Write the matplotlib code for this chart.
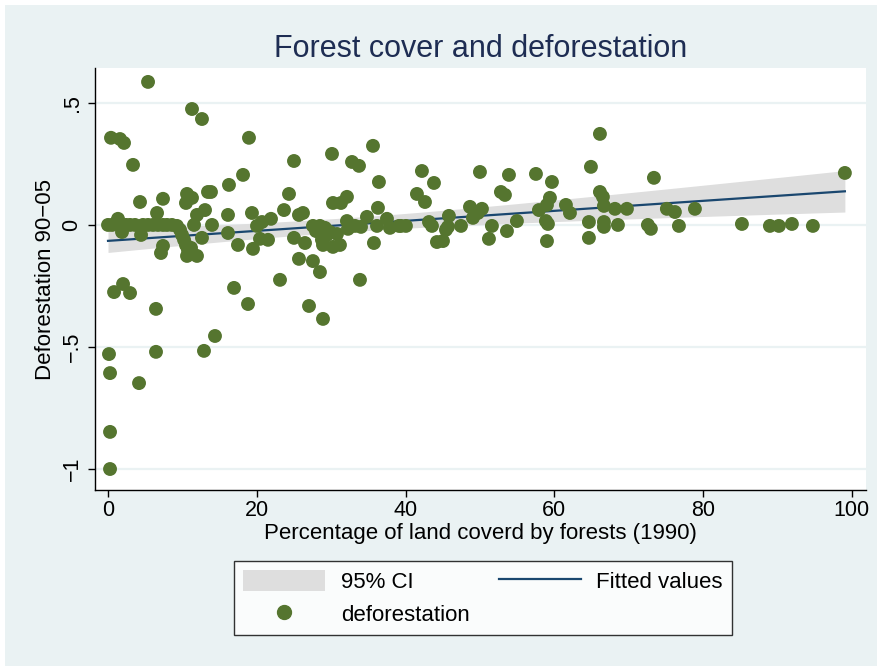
import matplotlib.pyplot as plt
import numpy as np
from matplotlib.patches import Patch, Rectangle
from matplotlib.lines import Line2D

plt.rcParams['font.family'] = ['Liberation Sans', 'DejaVu Sans']

# share of land covered by forests in 1990 (%) and deforestation 1990-2005
forest_1990 = [
    5.38, 11.29, 12.63, 0.40, 1.61, 2.15, 3.36, 18.95, 18.15, 16.26,
    13.44, 13.84, 10.62, 11.29, 10.48, 7.39, 4.30, 6.59, 11.96, 13.04,
    16.13, 0.00, 0.54, 1.08, 1.34, 1.61, 1.88, 2.42, 2.96, 3.63,
    4.44, 4.70, 5.38, 6.05, 6.72, 7.39, 7.93, 8.60, 9.27, 9.68,
    9.95, 10.22, 10.48, 10.75, 11.16, 11.56, 13.98, 12.63, 16.13, 17.47,
    7.39, 7.12, 10.62, 11.96, 0.81, 2.02, 2.96, 6.45, 0.13, 6.45,
    0.27, 4.17, 0.27, 0.27, 14.38, 12.90, 16.94, 18.82, 19.35, 20.03,
    20.70, 21.91, 20.43, 21.51, 19.49, 23.66, 24.33, 25.00, 23.12, 25.00,
    26.48, 25.67, 26.21, 25.67, 27.55, 28.49, 27.02, 28.90, 30.11, 32.80,
    33.74, 35.62, 36.42, 30.24, 31.32, 32.12, 27.55, 28.49, 27.96, 29.17,
    29.44, 28.76, 28.90, 30.24, 31.18, 30.78, 29.84, 32.12, 32.26, 33.20,
    34.01, 34.81, 36.29, 36.16, 37.50, 37.90, 39.11, 35.75, 33.87, 42.20,
    43.82, 41.53, 42.61, 39.38, 40.05, 43.15, 43.55, 44.22, 45.03, 45.83,
    45.70, 45.43, 47.45, 48.66, 49.06, 50.27, 49.73, 50.00, 51.61, 51.21,
    53.63, 54.97, 52.82, 53.36, 53.90, 57.53, 59.68, 57.93, 58.87, 59.14,
    59.01, 59.41, 59.01, 61.56, 62.10, 64.65, 64.65, 64.92, 66.13, 66.13,
    66.53, 66.67, 66.67, 66.67, 68.15, 69.76, 68.55, 72.58, 72.98, 73.39,
    75.13, 76.21, 76.75, 78.90, 85.22, 88.98, 90.19, 91.94, 94.76, 99.06,
]
deforestation = [
    0.586, 0.475, 0.434, 0.357, 0.352, 0.336, 0.246, 0.357, 0.205, 0.164,
    0.135, 0.135, 0.127, 0.111, 0.090, 0.107, 0.094, 0.049, 0.041, 0.061,
    0.041, 0.000, 0.000, 0.008, 0.025, 0.000, -0.029, 0.000, 0.000, 0.000,
    -0.041, 0.000, 0.000, 0.000, 0.000, 0.000, 0.000, 0.000, -0.004, -0.020,
    -0.041, -0.061, -0.082, -0.102, -0.094, 0.000, 0.000, -0.053, -0.033, -0.082,
    -0.086, -0.115, -0.127, -0.127, -0.275, -0.242, -0.279, -0.344, -0.529, -0.520,
    -0.607, -0.648, -0.848, -1.000, -0.455, -0.516, -0.258, -0.324, 0.049, -0.004,
    0.012, 0.025, -0.057, -0.061, -0.098, 0.061, 0.127, 0.262, -0.225, -0.053,
    -0.074, 0.041, 0.049, -0.139, -0.148, -0.193, -0.332, -0.385, 0.291, 0.258,
    0.242, 0.324, 0.176, 0.090, 0.090, 0.115, -0.004, -0.004, -0.025, -0.012,
    -0.041, -0.061, -0.082, -0.090, -0.082, -0.037, -0.029, 0.016, -0.016, -0.004,
    -0.008, 0.033, 0.070, -0.004, 0.025, -0.012, -0.004, -0.074, -0.225, 0.221,
    0.172, 0.127, 0.094, -0.004, -0.004, 0.012, -0.004, -0.070, -0.066, 0.037,
    -0.008, -0.020, -0.004, 0.074, 0.029, 0.066, 0.049, 0.217, -0.004, -0.057,
    -0.025, 0.016, 0.135, 0.123, 0.205, 0.209, 0.176, 0.061, 0.016, 0.004,
    -0.066, 0.111, 0.082, 0.082, 0.049, 0.012, -0.053, 0.238, 0.373, 0.135,
    0.115, 0.078, 0.012, -0.008, 0.066, 0.066, 0.000, 0.000, -0.016, 0.193,
    0.066, 0.053, -0.004, 0.066, 0.004, -0.004, -0.004, 0.004, -0.004, 0.213,
]

x_ticks = [0, 20, 40, 60, 80, 100]
y_ticks = [-1, -0.5, 0, 0.5]
y_tick_labels = ['\u22121', '\u2212.5', '0', '.5']

bg = '#EAF2F3'
green = '#55752F'
navy = '#1A476F'
band_gray = '#DEDEDE'

x = np.array(forest_1990)
y = np.array(deforestation)

# linear fit with 95% confidence band for the mean prediction
n = len(x)
slope, intercept = np.polyfit(x, y, 1)
resid = y - (intercept + slope * x)
s = np.sqrt(np.sum(resid ** 2) / (n - 2))
sxx = np.sum((x - x.mean()) ** 2)
xs = np.linspace(x.min(), x.max(), 100)
fit = intercept + slope * xs
se = s * np.sqrt(1.0 / n + (xs - x.mean()) ** 2 / sxx)
t_crit = 1.973
lo, hi = fit - t_crit * se, fit + t_crit * se

fig = plt.figure(figsize=(8.77, 6.66), dpi=100, facecolor='white')
fig.patches.append(Rectangle((5 / 877, 0), 1, 1 - 5 / 666, transform=fig.transFigure,
                             facecolor=bg, edgecolor='none', zorder=-10))
ax = fig.add_axes([95 / 877, 1 - 490 / 666, 771 / 877, 422 / 666])
ax.set_facecolor('white')

ax.fill_between(xs, lo, hi, color=band_gray, lw=0, zorder=2)
ax.plot(xs, fit, color=navy, lw=1.6, zorder=3)
ax.scatter(x, y, s=100, color=green, edgecolors='none', zorder=4)

ax.set_xlim(-1.75, 101.9)
ax.set_ylim(-1.086, 0.643)
ax.set_xticks(x_ticks)
ax.set_yticks(y_ticks)
ax.set_yticklabels(y_tick_labels, rotation=90, va='center')
ax.tick_params(axis='both', labelsize=15.5, length=5, width=1, color='black', direction='out')
ax.tick_params(axis='y', pad=4)
ax.tick_params(axis='x', pad=2)
ax.grid(axis='y', color=bg, lw=1.6, zorder=1)
ax.grid(axis='x', visible=False)
ax.set_axisbelow(True)
for side in ['top', 'right']:
    ax.spines[side].set_visible(False)
for side in ['left', 'bottom']:
    ax.spines[side].set_color('black')
    ax.spines[side].set_linewidth(1)

ax.set_xlabel('Percentage of land coverd by forests (1990)', fontsize=16, labelpad=2)
ax.set_ylabel('Deforestation 90\u221205', fontsize=16, labelpad=4)
ax.set_title('Forest cover and deforestation', fontsize=22, color='#1E2D53', pad=8)

handles = [
    Patch(facecolor=band_gray, edgecolor='none'),
    Line2D([], [], ls='none', marker='o', markersize=10, color=green),
    Line2D([], [], color=navy, lw=1.6),
]
labels = ['95% CI', 'deforestation', 'Fitted values']
leg = fig.legend(handles, labels, ncol=2, loc='center', bbox_to_anchor=(483 / 877, 1 - 598 / 666),
                 fontsize=16, frameon=True, fancybox=False, edgecolor='black',
                 handlelength=3.7, handleheight=1.1, handletextpad=0.7,
                 columnspacing=1.3, labelspacing=0.45, borderpad=0.4)
leg.get_frame().set_linewidth(1)
leg.get_frame().set_facecolor('white')

fig.savefig('out.png', dpi=100, facecolor=fig.get_facecolor())
